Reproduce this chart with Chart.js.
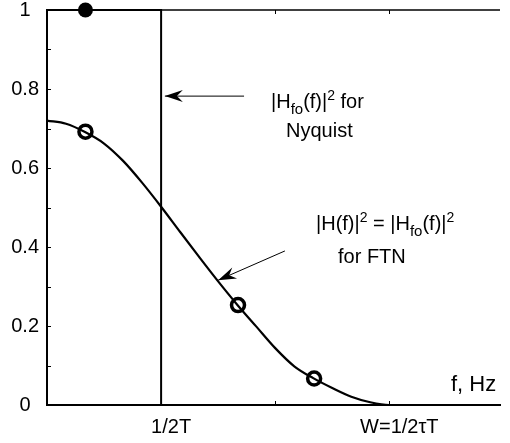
<!DOCTYPE html>
<html><head><meta charset="utf-8">
<script src="https://cdn.jsdelivr.net/npm/chart.js@4/dist/chart.umd.min.js"></script>
<style>html,body{margin:0;padding:0;background:#fff;}#wrap{width:510px;height:443px;}</style>
</head><body><div id="wrap"><canvas id="c" width="510" height="443"></canvas></div>
<script>
// FTN power spectrum |H(f)|^2 (x in units of 1/2T)
const ftnFreq  = [0, 0.167, 0.333, 0.5, 0.667, 0.833, 1.0, 1.167, 1.333, 1.5, 1.667, 1.833, 2.0, 2.167, 2.333, 2.5, 2.667, 2.833, 3.0, 3.97];
const ftnPower = [0.720, 0.712, 0.691, 0.662, 0.618, 0.563, 0.502, 0.438, 0.375, 0.313, 0.254, 0.199, 0.144, 0.098, 0.068, 0.043, 0.021, 0.007, 0.0, 0.0];
// Nyquist brick-wall spectrum
const nyqFreq  = [0, 1, 1, 3.97];
const nyqPower = [1, 1, 0, 0];
// sample markers
const ftnMarkFreq  = [0.337, 1.674, 2.341];
const ftnMarkPower = [0.692, 0.253, 0.067];
const nyqMarkFreq  = [0.337];
const nyqMarkPower = [1];
// axis ticks
const xTickValues = [1, 2, 3];
const xTickLabels = ['1/2T', '', 'W=1/2\u03c4T'];
const yTickValues = [0, 0.1, 0.2, 0.3, 0.4, 0.5, 0.6, 0.7, 0.8, 0.9, 1];
const yTickLabels = ['0', '', '0.2', '', '0.4', '', '0.6', '', '0.8', '', '1'];

const FONT = '"Liberation Sans", Arial, sans-serif';
const pts = (xs, ys) => xs.map((x, i) => ({x: x, y: ys[i]}));

function drawRich(ctx, x, y, segs) {
  let cx = x;
  for (const s of segs) {
    ctx.font = s.size + 'px ' + FONT;
    ctx.fillText(s.t, cx, y + (s.dy || 0));
    cx += ctx.measureText(s.t).width;
  }
}
function arrow(ctx, x1, y1, x2, y2) {
  ctx.save();
  ctx.strokeStyle = '#000'; ctx.fillStyle = '#000'; ctx.lineWidth = 1;
  ctx.beginPath(); ctx.moveTo(x1, y1); ctx.lineTo(x2, y2); ctx.stroke();
  const a = Math.atan2(y2 - y1, x2 - x1);
  const L = 18, W = 6, N = 12;
  const ca = Math.cos(a), sa = Math.sin(a);
  const bx = x2 - L * ca, by = y2 - L * sa;
  ctx.beginPath();
  ctx.moveTo(x2, y2);
  ctx.lineTo(bx - W * sa, by + W * ca);
  ctx.lineTo(x2 - N * ca, y2 - N * sa);
  ctx.lineTo(bx + W * sa, by - W * ca);
  ctx.closePath(); ctx.fill();
  ctx.restore();
}

const decor = {
  id: 'decor',
  afterDraw(chart) {
    const ctx = chart.ctx, a = chart.chartArea;
    const xs = chart.scales.x, ys = chart.scales.y;
    ctx.save();
    ctx.strokeStyle = '#000';
    // top box line
    ctx.lineWidth = 1.5;
    ctx.beginPath(); ctx.moveTo(a.left, a.top); ctx.lineTo(a.right, a.top); ctx.stroke();
    // inward ticks
    ctx.lineWidth = 1;
    ctx.beginPath();
    for (const v of yTickValues) {
      const py = Math.round(ys.getPixelForValue(v)) + 0.5;
      ctx.moveTo(a.left, py); ctx.lineTo(a.left + 4, py);
    }
    for (const v of xTickValues) {
      const px = Math.round(xs.getPixelForValue(v)) + 0.5;
      ctx.moveTo(px, a.bottom); ctx.lineTo(px, a.bottom - 4);
      ctx.moveTo(px, a.top); ctx.lineTo(px, a.top + 4);
    }
    ctx.stroke();
    // annotations
    ctx.fillStyle = '#000';
    ctx.textBaseline = 'alphabetic';
    ctx.textAlign = 'left';
    arrow(ctx, xs.getPixelForValue(1.727), ys.getPixelForValue(0.782), xs.getPixelForValue(1.033), ys.getPixelForValue(0.782));
    arrow(ctx, xs.getPixelForValue(2.085), ys.getPixelForValue(0.39), xs.getPixelForValue(1.5), ys.getPixelForValue(0.316));
    drawRich(ctx, 271, 108, [
      {t: '|H', size: 20}, {t: 'fo', size: 15, dy: 6}, {t: '(f)|', size: 20}, {t: '2', size: 14, dy: -8}, {t: ' for', size: 20}
    ]);
    drawRich(ctx, 286, 137, [{t: 'Nyquist', size: 20}]);
    drawRich(ctx, 316, 230, [
      {t: '|H(f)|', size: 20}, {t: '2', size: 14, dy: -8}, {t: ' = |H', size: 20}, {t: 'fo', size: 15, dy: 6}, {t: '(f)|', size: 20}, {t: '2', size: 14, dy: -8}
    ]);
    drawRich(ctx, 338, 263, [{t: 'for FTN', size: 20}]);
    ctx.font = '22px ' + FONT;
    ctx.fillText('f, Hz', 451, 391);
    ctx.restore();
  }
};

new Chart(document.getElementById('c'), {
  type: 'scatter',
  data: {
    datasets: [
      { data: pts(ftnFreq, ftnPower), showLine: true, borderColor: '#000', borderWidth: 2.2, pointRadius: 0, cubicInterpolationMode: 'monotone', clip: false },
      { data: pts(nyqFreq, nyqPower), showLine: true, borderColor: '#000', borderWidth: 2, pointRadius: 0, tension: 0, clip: false },
      { data: pts(ftnMarkFreq, ftnMarkPower), showLine: false, pointRadius: 6.5, pointBorderWidth: 3.5, pointBorderColor: '#000', pointBackgroundColor: 'rgba(0,0,0,0)', clip: false },
      { data: pts(nyqMarkFreq, nyqMarkPower), showLine: false, pointRadius: 7.5, pointBorderWidth: 0, pointBackgroundColor: '#000', pointBorderColor: '#000', clip: false }
    ]
  },
  options: {
    responsive: false, animation: false, devicePixelRatio: 1,
    layout: { padding: { top: 10, right: 0, left: 0, bottom: 0 } },
    plugins: { legend: { display: false }, tooltip: { enabled: false } },
    scales: {
      x: {
        type: 'linear', min: 0, max: 3.97,
        afterBuildTicks: s => { s.ticks = xTickValues.map(v => ({value: v})); },
        afterFit: s => { s.height = 38; s.paddingLeft = 0; s.paddingRight = 0; },
        grid: { display: false, drawTicks: false },
        border: { display: true, color: '#000', width: 2 },
        ticks: { color: '#000', font: { family: FONT, size: 20 }, padding: 10, labelOffset: 10, maxRotation: 0, autoSkip: false,
          callback: v => xTickLabels[xTickValues.indexOf(v)] }
      },
      y: {
        type: 'linear', min: 0, max: 1,
        afterBuildTicks: s => { s.ticks = yTickValues.map(v => ({value: v})); },
        afterFit: s => { s.width = 47; s.paddingTop = 0; s.paddingBottom = 0; },
        grid: { display: false, drawTicks: false },
        border: { display: true, color: '#000', width: 2 },
        ticks: { color: '#000', font: { family: FONT, size: 20, lineHeight: 1 }, padding: 8, crossAlign: 'center', autoSkip: false,
          callback: v => { const i = yTickValues.findIndex(t => Math.abs(t - v) < 1e-9); return i < 0 ? '' : yTickLabels[i]; } }
      }
    }
  },
  plugins: [decor]
});
</script>
</body></html>
